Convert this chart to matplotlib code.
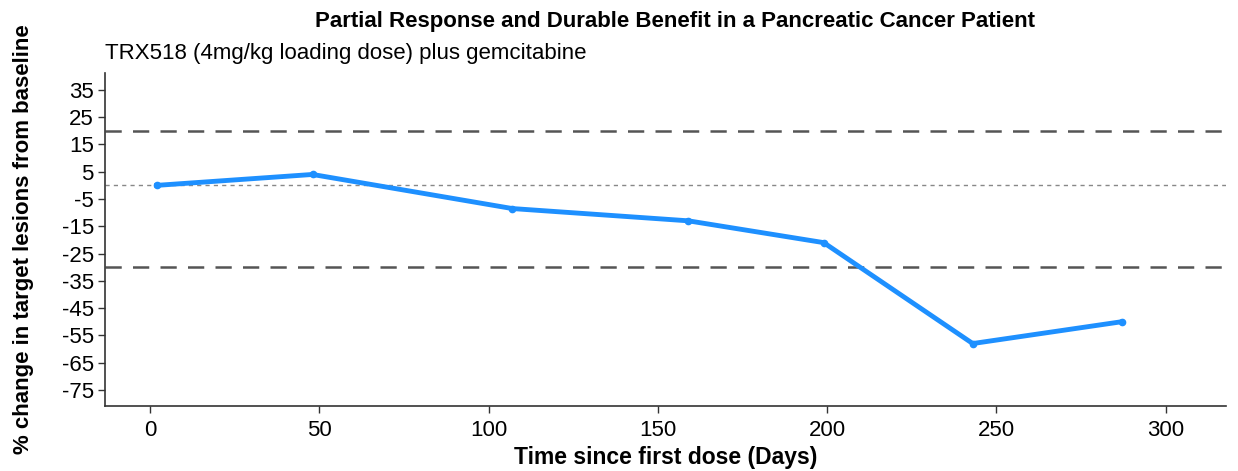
import matplotlib
matplotlib.use("Agg")
import matplotlib.pyplot as plt

days = [2, 48, 107, 159, 199, 243, 287]
pct_change = [0, 4, -8.5, -13, -21, -58, -50]
x_ticks = [0, 50, 100, 150, 200, 250, 300]
y_ticks = [35, 25, 15, 5, -5, -15, -25, -35, -45, -55, -65, -75]
ref_lines = [20, -30]

plt.rcParams['font.family'] = ['Liberation Sans', 'DejaVu Sans']
plt.rcParams['axes.unicode_minus'] = False

fig = plt.figure(figsize=(12.38, 4.71), dpi=100)
ax = fig.add_axes([0.0848, 0.138, 0.9052, 0.707])

for r in ref_lines:
    ax.axhline(r, color='#555555', lw=1.8, ls=(0, (6.5, 4.5)), zorder=1)
ax.axhline(0, color='#888888', lw=1.0, ls=(0, (3, 3)), zorder=1)

ax.plot(days, pct_change, color='#1E90FF', lw=3.5, marker='o', ms=4.5,
        solid_joinstyle='round', zorder=3)

ax.set_xlim(-13.3, 317.7)
ax.set_ylim(-80.9, 41.2)
ax.set_xticks(x_ticks)
ax.set_yticks(y_ticks)
ax.tick_params(axis='both', labelsize=16, colors='#333333', labelcolor='black',
               length=5, width=1)
ax.tick_params(axis='x', pad=5)
ax.tick_params(axis='y', pad=3)
for s in ['top', 'right']:
    ax.spines[s].set_visible(False)
for s in ['left', 'bottom']:
    ax.spines[s].set_color('#333333')
    ax.spines[s].set_linewidth(1.2)

ax.set_xlabel('Time since first dose (Days)', fontsize=16.5, fontweight='bold', labelpad=4)
ax.set_ylabel('% change in target lesions from baseline', fontsize=16, fontweight='bold', labelpad=20)

fig.text(0.545, 0.955, 'Partial Response and Durable Benefit in a Pancreatic Cancer Patient',
         ha='center', va='center', fontsize=16, fontweight='bold')
fig.text(0.0848, 0.887, 'TRX518 (4mg/kg loading dose) plus gemcitabine',
         ha='left', va='center', fontsize=16)

fig.savefig('out.png', dpi=100)
